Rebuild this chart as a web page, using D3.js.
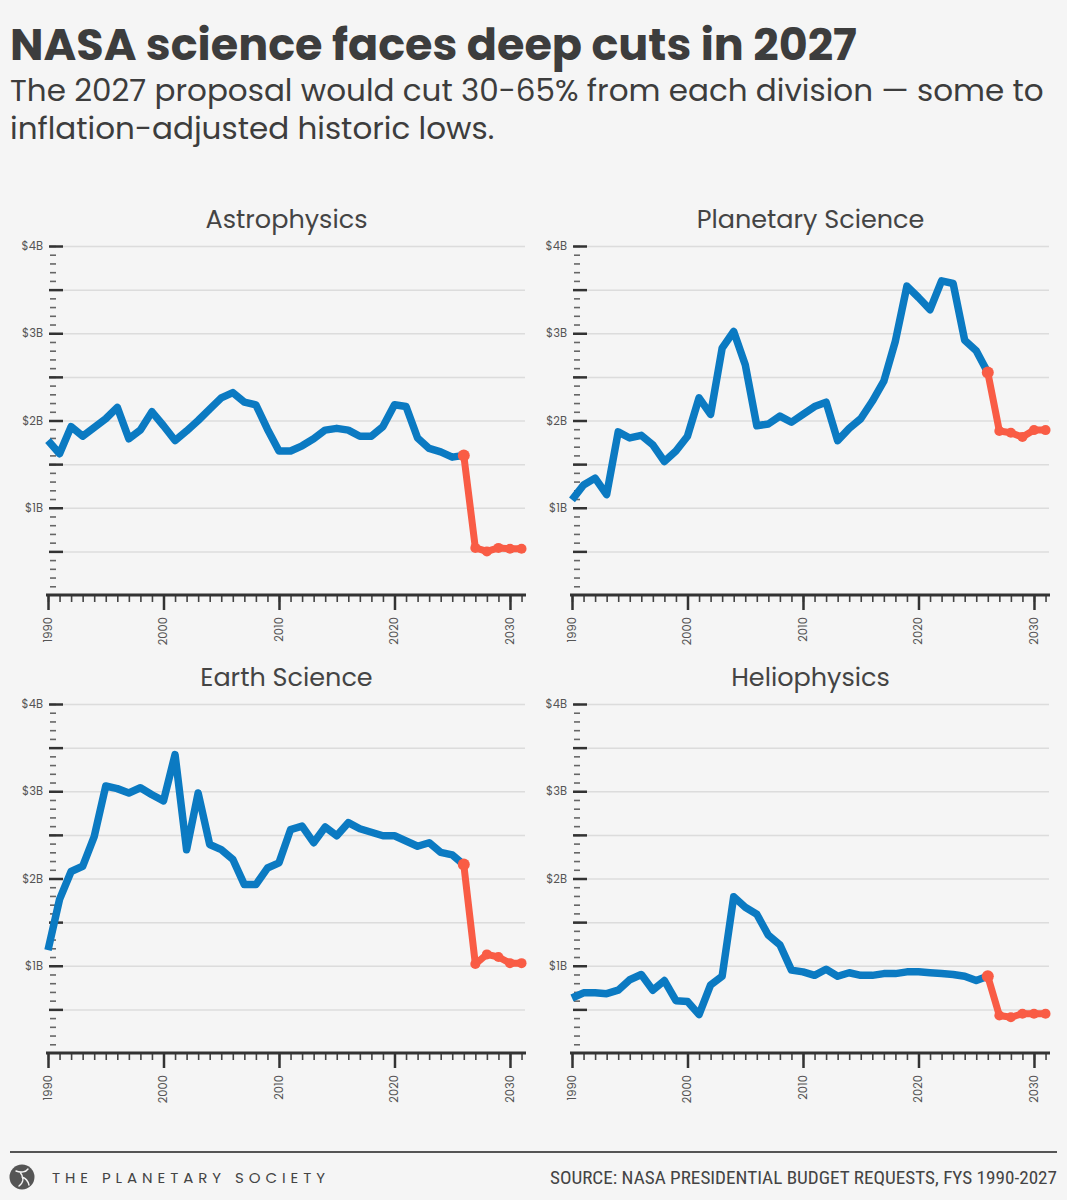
<!DOCTYPE html>
<html>
<head>
<meta charset="utf-8">
<script src="https://cdn.jsdelivr.net/npm/d3@7"></script>
<style>
  body { margin: 0; background: #f5f5f5; }
  svg { display: block; }
</style>
</head>
<body>
<div id="chart"></div>
<script>
// budget by division, $B, fiscal years 1990-2031 (2026 on = proposal)
const years = d3.range(1990, 2032);
const proposalStart = 2026;

const divisions = ["Astrophysics", "Planetary Science", "Earth Science", "Heliophysics"];

const astrophysics = [1.77, 1.62, 1.93, 1.82, 1.92, 2.02, 2.15, 1.79, 1.89, 2.10,
    1.94, 1.77, 1.88, 2.00, 2.13, 2.26, 2.32, 2.21, 2.18, 1.90,
    1.65, 1.65, 1.71, 1.79, 1.89, 1.91, 1.89, 1.82, 1.82, 1.93,
    2.18, 2.16, 1.80, 1.68, 1.64, 1.58, 1.60, 0.54, 0.50, 0.54, 0.53, 0.53];

const planetary = [1.09, 1.26, 1.34, 1.15, 1.87, 1.80, 1.83, 1.72, 1.53, 1.65,
    1.82, 2.26, 2.07, 2.83, 3.02, 2.64, 1.94, 1.96, 2.05, 1.98,
    2.07, 2.16, 2.21, 1.77, 1.91, 2.02, 2.22, 2.45, 2.91, 3.54,
    3.41, 3.27, 3.60, 3.57, 2.92, 2.80, 2.55, 1.88, 1.86, 1.81, 1.89, 1.89];

const earth = [1.18, 1.76, 2.08, 2.14, 2.48, 3.06, 3.03, 2.98, 3.04, 2.96,
    2.89, 3.42, 2.33, 2.98, 2.39, 2.33, 2.22, 1.93, 1.93, 2.12,
    2.18, 2.56, 2.60, 2.41, 2.59, 2.49, 2.64, 2.57, 2.53, 2.49,
    2.49, 2.43, 2.37, 2.41, 2.30, 2.27, 2.16, 1.02, 1.13, 1.10, 1.03, 1.03];

const heliophysics = [0.63, 0.69, 0.69, 0.68, 0.72, 0.84, 0.90, 0.72, 0.83, 0.60,
    0.59, 0.44, 0.78, 0.88, 1.79, 1.67, 1.59, 1.35, 1.24, 0.95,
    0.93, 0.89, 0.96, 0.88, 0.92, 0.89, 0.89, 0.91, 0.91, 0.93,
    0.93, 0.92, 0.91, 0.90, 0.88, 0.83, 0.88, 0.43, 0.41, 0.45, 0.45, 0.45];

const series = [astrophysics, planetary, earth, heliophysics];

const yLabelTicks = [1, 2, 3, 4];
const yGridTicks = [0.5, 1, 1.5, 2, 2.5, 3, 3.5, 4];
const yMinorTicks = d3.range(1, 41).map(d => d / 10);
const xDecades = [1990, 2000, 2010, 2020, 2030];

const titleText = "NASA science faces deep cuts in 2027";
const subtitleLines = ["The 2027 proposal would cut 30-65% from each division \u2014 some to",
    "inflation-adjusted historic lows."];
const orgText = "THE PLANETARY SOCIETY";
const sourceText = "SOURCE: NASA PRESIDENTIAL BUDGET REQUESTS, FYS 1990-2027";

const width = 1067, height = 1200;
const blue = "#0b7ac2", red = "#f95c45", ink = "#3d3d3d";
const font = "Poppins, 'Open Sans', sans-serif";

const svg = d3.select("#chart").append("svg")
    .attr("width", width)
    .attr("height", height);

svg.append("rect").attr("width", width).attr("height", height).attr("fill", "#f5f5f5");

// fit a text element to a target width by scaling its font size
function fitText(sel, target) {
    const w = sel.node().getComputedTextLength();
    const fs = parseFloat(sel.attr("font-size"));
    sel.attr("font-size", fs * target / w);
    return fs * target / w;
}

const title = svg.append("text")
    .attr("x", 10).attr("y", 60)
    .attr("font-family", font).attr("font-weight", 700)
    .attr("font-size", 42).attr("fill", ink)
    .text(titleText);
fitText(title, 847);

let subSize = 29;
subtitleLines.forEach((line, i) => {
    const t = svg.append("text")
        .attr("x", 10).attr("y", 101 + i * 38)
        .attr("font-family", font)
        .attr("font-size", subSize).attr("fill", ink)
        .text(line);
    if (i === 0) subSize = fitText(t, 1034);
});

// panel layout: axis origin per panel
const panels = [
    {ox: 48, oy: 595},
    {ox: 572, oy: 595},
    {ox: 48, oy: 1053},
    {ox: 572, oy: 1053}
];
const plotW = 477, plotH = 349;

function drawPanel(p, name, values) {
    const g = svg.append("g");

    const x = d3.scaleLinear().domain([1990, 2031.3]).range([p.ox, p.ox + plotW]);
    const y = d3.scaleLinear().domain([0, 4]).range([p.oy, p.oy - plotH]);

    // gridlines
    g.append("g")
        .attr("transform", `translate(${p.ox + 15},0)`)
        .call(d3.axisRight(y).tickValues(yGridTicks).tickSize(plotW - 15).tickFormat(""))
        .call(a => a.select(".domain").remove())
        .call(a => a.selectAll("line").attr("stroke", "#dcdcdc").attr("stroke-width", 1.5));

    // minor y ticks
    g.append("g")
        .attr("transform", `translate(${p.ox + 2},0)`)
        .call(d3.axisRight(y).tickValues(yMinorTicks).tickSize(6).tickFormat(""))
        .call(a => a.select(".domain").remove())
        .call(a => a.selectAll("line").attr("stroke", "#666").attr("stroke-width", 1.6));

    // major y ticks
    g.append("g")
        .attr("transform", `translate(${p.ox + 1},0)`)
        .call(d3.axisRight(y).tickValues(yGridTicks).tickSize(14).tickFormat(""))
        .call(a => a.select(".domain").remove())
        .call(a => a.selectAll("line").attr("stroke", "#333").attr("stroke-width", 2.5));

    // y labels
    g.append("g")
        .attr("transform", `translate(${p.ox - 5},0)`)
        .call(d3.axisLeft(y).tickValues(yLabelTicks).tickSize(0).tickPadding(0).tickFormat(d => "$" + d + "B"))
        .call(a => a.select(".domain").remove())
        .call(a => a.selectAll("text")
            .attr("font-family", font).attr("font-size", 11.5).attr("fill", "#555"));

    // x axis yearly ticks
    g.append("g")
        .attr("transform", `translate(0,${p.oy})`)
        .call(d3.axisBottom(x).tickValues(years).tickSize(7).tickFormat(""))
        .call(a => a.select(".domain").remove())
        .call(a => a.selectAll("line").attr("stroke", "#444").attr("stroke-width", 1.6));

    g.append("g")
        .attr("transform", `translate(0,${p.oy})`)
        .call(d3.axisBottom(x).tickValues(xDecades).tickSize(15).tickFormat(""))
        .call(a => a.select(".domain").remove())
        .call(a => a.selectAll("line").attr("stroke", "#333").attr("stroke-width", 2.5));

    g.append("line")
        .attr("x1", p.ox - 2).attr("x2", p.ox + plotW + 1)
        .attr("y1", p.oy).attr("y2", p.oy)
        .attr("stroke", "#333").attr("stroke-width", 3);

    g.selectAll(".xlab")
        .data(xDecades)
        .enter()
        .append("text")
        .attr("class", "xlab")
        .attr("transform", d => `translate(${x(d) + 4},${p.oy + 22}) rotate(-90)`)
        .attr("text-anchor", "end")
        .attr("font-family", font).attr("font-size", 11.5).attr("fill", "#555")
        .text(d => d);

    // panel title
    g.append("text")
        .attr("x", p.ox + plotW / 2).attr("y", p.oy - 367)
        .attr("text-anchor", "middle")
        .attr("font-family", font).attr("font-size", 25.5).attr("fill", "#444")
        .text(name);

    const pts = years.map((yr, i) => ({yr: yr, v: values[i]}));
    const line = d3.line().x(d => x(d.yr)).y(d => y(d.v));
    const past = pts.filter(d => d.yr <= proposalStart);
    const proposed = pts.filter(d => d.yr >= proposalStart);

    g.append("path")
        .datum(past)
        .attr("d", line)
        .attr("fill", "none")
        .attr("stroke", blue)
        .attr("stroke-width", 7.5)
        .attr("stroke-linejoin", "round");

    g.append("path")
        .datum(proposed)
        .attr("d", line)
        .attr("fill", "none")
        .attr("stroke", red)
        .attr("stroke-width", 7)
        .attr("stroke-linejoin", "round");

    g.selectAll(".dot")
        .data(proposed)
        .enter()
        .append("circle")
        .attr("class", "dot")
        .attr("cx", d => x(d.yr))
        .attr("cy", d => y(d.v))
        .attr("r", (d, i) => i === 0 ? 6 : 5)
        .attr("fill", red);
}

divisions.forEach((name, i) => drawPanel(panels[i], name, series[i]));

// footer
svg.append("line")
    .attr("x1", 10).attr("x2", 1057)
    .attr("y1", 1152).attr("y2", 1152)
    .attr("stroke", "#555").attr("stroke-width", 2);

const logo = svg.append("g").attr("transform", "translate(22,1177)");
logo.append("circle").attr("r", 12.5).attr("fill", "#555");
logo.append("path")
    .attr("d", "M-6,-6 C-1,-4 4,-5 6,-8 M-2,-5 C2,0 2,5 -3,9 M0,0 C3,1 6,4 7,8")
    .attr("fill", "none").attr("stroke", "#f5f5f5").attr("stroke-width", 1.4)
    .attr("stroke-linecap", "round");

svg.append("text")
    .attr("x", 52).attr("y", 1183)
    .attr("font-family", font).attr("font-size", 15).attr("fill", "#444")
    .attr("textLength", 273).attr("lengthAdjust", "spacing")
    .text(orgText);

svg.append("text")
    .attr("x", 1057).attr("y", 1184)
    .attr("text-anchor", "end")
    .attr("font-family", "'Liberation Sans Narrow', 'Roboto Condensed', sans-serif")
    .attr("font-size", 18).attr("fill", "#444")
    .attr("textLength", 507).attr("lengthAdjust", "spacingAndGlyphs")
    .text(sourceText);
</script>
</body>
</html>
